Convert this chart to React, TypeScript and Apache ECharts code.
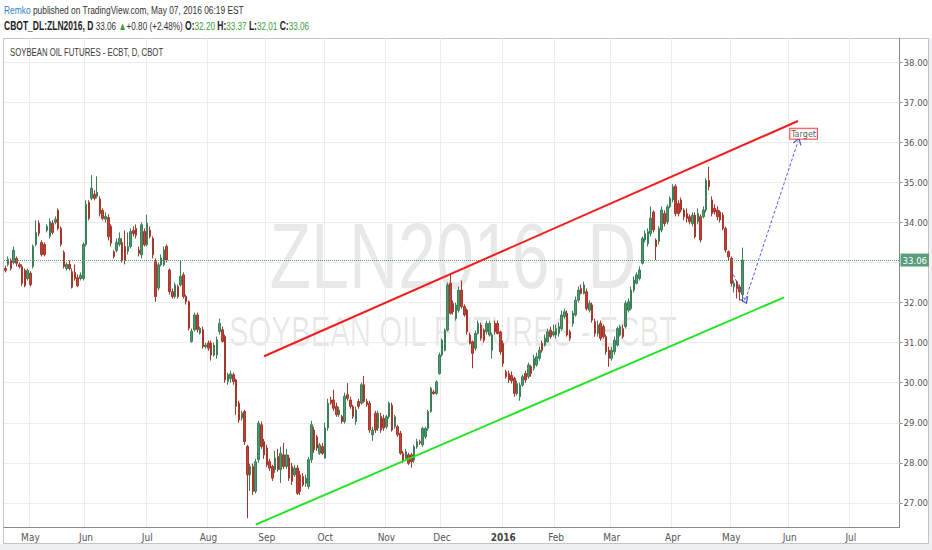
import React, { useEffect, useRef } from "react";
import * as echarts from "echarts";

// trading calendar (CBOT), weekends + exchange holidays skipped
const firstDay = "2015-04-20";
const lastDay = "2016-07-27";
const holidays = [
  "2015-05-25", "2015-07-03", "2015-09-07", "2015-11-26", "2015-12-25",
  "2016-01-01", "2016-01-18", "2016-02-15", "2016-03-25", "2016-05-30", "2016-07-04",
];
const monthNames = ["Jan", "Feb", "Mar", "Apr", "May", "Jun", "Jul", "Aug", "Sep", "Oct", "Nov", "Dec"];

// daily bars: [open, close, low, high]
const apr15 = [
  [32.85, 32.80, 32.75, 32.92], [32.95, 33.08, 32.90, 33.15], [33.05, 32.85, 32.80, 33.10],
  [33.00, 33.30, 32.95, 33.40], [33.10, 32.98, 32.90, 33.15], [32.95, 32.90, 32.85, 33.00],
  [32.90, 32.48, 32.42, 32.95], [32.80, 32.42, 32.38, 32.85], [32.60, 32.80, 32.55, 32.85],
];
const may15 = [
  [32.73, 32.45, 32.40, 32.78], [32.90, 33.40, 32.85, 33.45], [33.45, 33.75, 33.40, 34.05],
  [33.98, 33.72, 33.65, 34.05], [33.50, 33.20, 33.15, 33.55], [33.45, 33.20, 33.15, 33.50],
  [33.80, 33.90, 33.75, 33.95], [33.65, 34.02, 33.60, 34.10], [33.98, 33.75, 33.70, 34.05],
  [34.00, 34.08, 33.95, 34.15], [34.30, 33.85, 33.80, 34.35], [33.85, 33.45, 33.40, 33.90],
  [33.25, 32.90, 32.85, 33.30], [32.85, 32.95, 32.80, 33.00], [32.95, 32.85, 32.80, 33.05],
  [32.77, 32.38, 32.35, 32.85], [32.75, 32.60, 32.55, 32.95], [32.62, 32.42, 32.38, 32.70],
  [32.60, 32.68, 32.55, 32.75], [32.60, 33.45, 32.55, 33.50],
];
const jun15 = [
  [33.45, 34.45, 33.40, 34.55], [34.50, 34.10, 34.05, 34.55], [34.60, 34.85, 34.55, 35.18],
  [34.70, 34.60, 34.55, 34.80], [34.65, 34.75, 34.60, 35.15], [34.58, 34.22, 34.15, 34.65],
  [34.30, 34.10, 34.05, 34.35], [34.08, 34.15, 34.00, 34.25], [34.12, 33.64, 33.55, 34.20],
  [33.90, 33.48, 33.40, 33.95], [33.27, 33.15, 33.10, 33.30], [33.30, 33.50, 33.25, 33.60],
  [33.45, 33.60, 33.40, 33.75], [33.50, 33.05, 33.00, 33.60], [33.40, 33.05, 32.95, 33.80],
  [33.28, 33.40, 33.20, 33.75], [33.40, 33.77, 33.35, 33.85], [33.80, 33.72, 33.65, 33.90],
  [33.85, 33.68, 33.60, 33.95], [33.31, 33.23, 33.15, 33.40], [33.19, 33.94, 33.10, 34.00],
  [33.77, 33.44, 33.40, 33.85],
];
const jul15 = [
  [33.44, 33.98, 33.40, 34.19], [33.81, 33.65, 33.60, 33.90], [33.60, 33.19, 33.10, 33.65],
  [33.02, 32.15, 32.02, 33.10], [32.36, 32.94, 32.30, 33.00], [32.94, 33.11, 32.90, 33.20],
  [32.94, 33.31, 32.90, 33.40], [33.40, 33.06, 33.00, 33.45], [32.81, 32.27, 32.20, 32.85],
  [32.27, 32.15, 32.10, 32.35], [32.15, 32.44, 32.10, 32.50], [32.40, 32.15, 32.10, 32.45],
  [32.44, 32.65, 32.40, 33.06], [32.69, 32.15, 32.10, 32.75], [32.15, 32.02, 31.95, 32.20],
  [32.02, 31.36, 31.30, 32.05], [31.03, 31.28, 31.00, 31.35], [31.32, 31.69, 31.28, 31.75],
  [31.69, 31.32, 31.25, 31.75], [31.24, 31.36, 31.20, 31.40], [31.32, 30.90, 30.85, 31.40],
  [30.90, 30.94, 30.85, 31.00],
];
const aug15 = [
  [30.99, 30.86, 30.80, 31.05], [30.99, 30.69, 30.55, 31.05], [30.69, 30.94, 30.65, 31.00],
  [30.69, 31.07, 30.60, 31.15], [31.28, 31.48, 31.20, 31.60], [31.32, 31.03, 31.00, 31.40],
  [31.15, 30.07, 30.00, 31.20], [30.03, 30.20, 29.95, 30.25], [30.10, 30.22, 30.00, 30.30],
  [30.20, 30.03, 29.95, 30.25], [30.07, 29.41, 29.20, 30.10], [29.49, 29.07, 29.00, 29.55],
  [29.12, 29.24, 29.05, 29.30], [29.28, 28.53, 28.45, 29.32], [28.41, 27.70, 26.62, 28.45],
  [27.70, 27.91, 27.30, 27.98], [27.91, 27.29, 27.20, 27.98], [27.29, 28.03, 27.24, 28.10],
  [28.08, 28.99, 28.00, 29.05], [28.95, 28.41, 28.35, 29.03], [28.53, 28.20, 28.10, 28.60],
];
const sep15 = [
  [28.37, 27.95, 27.90, 28.45], [28.03, 27.87, 27.80, 28.10], [27.91, 27.62, 27.55, 27.95],
  [27.83, 28.12, 27.75, 28.30], [28.16, 27.83, 27.78, 28.35], [27.83, 28.24, 27.50, 28.40],
  [28.20, 27.91, 27.85, 28.50], [27.91, 28.20, 27.85, 28.35], [28.12, 27.62, 27.55, 28.20],
  [27.91, 27.54, 27.45, 28.00], [27.70, 27.87, 27.65, 27.95], [27.87, 27.24, 27.20, 27.95],
  [27.70, 27.29, 27.20, 27.80], [27.66, 27.45, 27.40, 27.75], [27.49, 27.62, 27.40, 27.70],
  [27.41, 28.08, 27.35, 28.15], [28.08, 28.95, 28.00, 29.05], [28.82, 28.33, 28.25, 28.90],
  [28.65, 28.37, 28.30, 28.70], [28.24, 28.45, 28.20, 28.50], [28.41, 28.24, 28.20, 28.50],
];
const oct15 = [
  [28.12, 28.87, 28.10, 29.00], [28.87, 29.49, 28.80, 29.60], [29.57, 29.49, 29.45, 29.65],
  [29.57, 29.36, 29.30, 29.82], [29.41, 29.20, 29.15, 29.50], [29.20, 29.32, 29.15, 29.40],
  [29.16, 29.03, 28.98, 29.20], [29.03, 29.66, 28.98, 29.75], [29.70, 29.61, 29.55, 29.99],
  [29.57, 29.41, 29.35, 29.65], [29.41, 29.16, 29.10, 29.45], [29.03, 29.32, 28.95, 29.40],
  [29.53, 29.41, 29.35, 29.60], [29.49, 29.95, 29.45, 30.00], [29.95, 29.53, 29.50, 30.17],
  [29.53, 29.45, 29.40, 29.60], [29.49, 28.82, 28.75, 29.55], [28.70, 28.82, 28.55, 28.90],
  [29.24, 28.82, 28.75, 29.30], [28.87, 29.24, 28.80, 29.30], [29.16, 28.82, 28.75, 29.25],
  [29.11, 28.87, 28.80, 29.20],
];
const nov15 = [
  [28.90, 29.15, 28.85, 29.20], [29.15, 29.49, 29.10, 29.53], [29.44, 28.82, 28.78, 29.50],
  [28.90, 29.15, 28.85, 29.20], [28.90, 28.70, 28.65, 28.95], [28.74, 28.24, 28.20, 28.80],
  [28.24, 28.07, 28.00, 28.30], [28.11, 28.28, 28.05, 28.35], [28.20, 27.99, 27.95, 28.25],
  [28.20, 28.03, 27.88, 28.25], [28.07, 28.40, 28.00, 28.45], [28.40, 28.53, 28.35, 28.60],
  [28.53, 28.50, 28.45, 28.58], [28.45, 28.86, 28.40, 28.90], [28.65, 28.86, 28.60, 28.90],
  [28.86, 29.28, 28.80, 29.32], [29.28, 29.86, 29.25, 29.90], [29.77, 29.73, 29.70, 29.82],
  [29.73, 30.02, 29.70, 30.06], [30.23, 30.69, 30.20, 30.75],
];
const dec15 = [
  [30.69, 31.06, 30.65, 31.10], [30.81, 31.31, 30.78, 31.35], [31.31, 32.44, 31.28, 32.50],
  [32.48, 31.73, 31.70, 32.69], [31.98, 31.77, 31.70, 32.05], [31.60, 31.94, 31.55, 32.00],
  [31.81, 32.31, 31.75, 32.40], [32.31, 31.90, 31.85, 32.55], [31.90, 31.69, 31.65, 31.95],
  [31.81, 31.27, 31.20, 31.85], [31.19, 30.98, 30.95, 31.25], [31.02, 30.73, 30.36, 31.05],
  [30.86, 31.23, 30.80, 31.30], [31.23, 31.48, 31.20, 31.55], [31.44, 31.11, 31.05, 31.50],
  [31.31, 31.06, 31.00, 31.35], [31.27, 31.48, 31.20, 31.55], [31.19, 31.48, 31.15, 31.55],
  [30.81, 31.19, 30.60, 31.25], [31.48, 31.27, 31.20, 31.55], [31.48, 31.23, 31.20, 31.55],
  [31.27, 30.77, 30.70, 31.30],
];
const jan16 = [
  [30.98, 30.48, 30.40, 31.05], [30.27, 30.15, 30.10, 30.32], [30.23, 30.07, 30.00, 30.30],
  [30.18, 30.05, 29.98, 30.28], [30.11, 29.73, 29.65, 30.15], [29.73, 29.98, 29.68, 30.05],
  [29.65, 29.94, 29.55, 30.00], [29.94, 30.15, 29.90, 30.20], [30.23, 30.07, 30.00, 30.30],
  [30.15, 30.44, 30.10, 30.50], [30.40, 30.23, 30.15, 30.45], [30.36, 30.61, 30.30, 30.70],
  [30.44, 30.65, 30.40, 30.75], [30.61, 30.81, 30.55, 30.90], [30.98, 30.81, 30.75, 31.05],
  [30.94, 31.11, 30.90, 31.20], [31.02, 31.27, 31.00, 31.35], [31.31, 31.15, 31.10, 31.40],
  [31.19, 31.27, 31.15, 31.45],
];
const feb16 = [
  [31.19, 31.35, 31.10, 31.45], [31.23, 31.40, 31.15, 31.50], [31.35, 31.69, 31.30, 31.80],
  [31.65, 31.77, 31.60, 31.85], [31.73, 31.19, 31.15, 31.80], [31.27, 31.11, 31.05, 31.32],
  [31.48, 31.73, 31.40, 31.80], [31.69, 32.06, 31.65, 32.15], [32.06, 32.31, 32.00, 32.40],
  [32.35, 32.23, 32.20, 32.45], [32.23, 32.44, 32.20, 32.52], [32.27, 31.85, 31.80, 32.35],
  [31.81, 31.98, 31.75, 32.05], [31.94, 31.56, 31.50, 32.00], [31.52, 31.23, 31.15, 31.60],
  [31.23, 31.44, 31.15, 31.55], [31.48, 31.11, 31.05, 31.55], [31.40, 31.15, 31.10, 31.45],
  [31.15, 30.77, 30.70, 31.20], [30.81, 30.61, 30.40, 30.90],
];
const mar16 = [
  [30.61, 30.81, 30.55, 30.90], [30.77, 31.06, 30.70, 31.15], [30.94, 31.35, 30.90, 31.40],
  [31.19, 31.40, 31.15, 31.45], [31.35, 31.15, 31.10, 31.45], [31.40, 31.98, 31.35, 32.05],
  [31.81, 32.02, 31.75, 32.10], [31.85, 32.31, 31.80, 32.40], [32.31, 32.56, 32.25, 32.65],
  [32.48, 32.69, 32.45, 32.75], [32.60, 32.81, 32.55, 32.90], [32.98, 33.60, 32.95, 33.65],
  [33.56, 33.72, 33.50, 33.80], [33.47, 33.77, 33.40, 33.85], [33.72, 34.10, 33.65, 34.40],
  [34.26, 33.81, 33.75, 34.30], [33.56, 33.39, 33.06, 33.60], [33.52, 33.85, 33.45, 33.90],
  [33.81, 34.31, 33.75, 34.40], [34.22, 33.97, 33.90, 34.30], [34.02, 34.39, 33.95, 34.45],
  [34.39, 34.60, 34.35, 34.65],
];
const apr16 = [
  [34.56, 34.89, 34.50, 34.95], [34.90, 34.22, 34.15, 34.95], [34.47, 34.22, 34.15, 34.55],
  [34.56, 34.31, 34.25, 34.62], [34.31, 34.14, 34.05, 34.35], [34.22, 34.10, 34.00, 34.35],
  [34.14, 34.02, 33.95, 34.20], [33.97, 34.18, 33.90, 34.25], [34.18, 33.64, 33.60, 34.25],
  [34.02, 34.22, 33.95, 34.35], [34.14, 33.56, 33.50, 34.20], [34.14, 34.31, 34.10, 34.40],
  [34.31, 35.05, 34.25, 35.10], [35.05, 34.89, 34.80, 35.39], [34.56, 34.22, 34.15, 34.65],
  [34.35, 34.26, 34.20, 34.45], [34.31, 34.14, 34.05, 34.40], [34.26, 34.06, 34.00, 34.30],
  [34.18, 33.85, 33.80, 34.25], [33.85, 33.31, 33.25, 33.90], [33.27, 33.14, 33.05, 33.30],
];
const may16 = [
  [33.10, 32.48, 32.40, 33.15], [32.39, 32.48, 32.25, 32.55], [32.52, 32.35, 32.10, 32.55],
  [32.39, 32.26, 32.05, 32.45], [32.20, 33.06, 32.01, 33.37],
];

// price axis
const priceMin = 26.4;
const priceMax = 38.6;
const gridPrices = [27, 28, 29, 30, 31, 32, 33, 34, 35, 36, 37, 38];
const priceLabels = [27, 28, 29, 30, 31, 32, 34, 35, 36, 37, 38];

// drawings: [bar index, price]
const redLine = [[93, 30.66], [285, 36.53]];
const greenLine = [[90, 26.46], [280, 32.13]];
const forecast = [[261, 32.81], [266, 32.05], [285, 36.02]];
const target = [287, 36.21];

const narrow = "'Liberation Sans Narrow', 'DejaVu Sans Condensed', 'Liberation Sans', sans-serif";
const chevron = "path://M0,10 L5,0 L10,10";

function tradingDays() {
  const out: string[] = [];
  const d = new Date(firstDay + "T00:00:00Z");
  const end = new Date(lastDay + "T00:00:00Z");
  while (d <= end) {
    const wd = d.getUTCDay();
    const s = d.toISOString().slice(0, 10);
    if (wd !== 0 && wd !== 6 && !holidays.includes(s)) out.push(s);
    d.setUTCDate(d.getUTCDate() + 1);
  }
  return out;
}

export default function App() {
  const chartRef = useRef<HTMLDivElement>(null);

  useEffect(() => {
    if (!chartRef.current) return;
    const chart = echarts.init(chartRef.current, null, { renderer: "svg" });

    const days = tradingDays();
    const bars = [
      ...apr15, ...may15, ...jun15, ...jul15, ...aug15, ...sep15, ...oct15,
      ...nov15, ...dec15, ...jan16, ...feb16, ...mar16, ...apr16, ...may16,
    ];
    const monthStart = (i: number) => i > 0 && days[i].slice(0, 7) !== days[i - 1].slice(0, 7);
    const monthLabel = (v: string) => {
      const m = Number(v.slice(5, 7)) - 1;
      return m === 0 ? "{y|" + v.slice(0, 4) + "}" : monthNames[m];
    };

    const last = bars[bars.length - 1];
    const prevClose = bars[bars.length - 2][1];
    const chg = last[1] - prevClose;
    const pct = (chg / prevClose) * 100;
    const f = (v: number) => v.toFixed(2);
    const header2 =
      `{b|CBOT_DL:ZLN2016, D} ${f(last[1])} {g|▲}+${f(chg)} (+${f(pct)}%) ` +
      `{b|O:}{g|${f(last[0])}} {b|H:}{g|${f(last[3])}} {b|L:}{g|${f(last[2])}} {b|C:}{g|${f(last[1])}}`;

    const option = {
      animation: false,
      backgroundColor: "#ffffff",
      textStyle: { fontFamily: narrow },
      grid: { left: 4, right: 29, top: 38, bottom: 23 },
      graphic: [
        { type: "rect", silent: true, z: 0, shape: { x: 0, y: 544, width: 932, height: 6 }, style: { fill: "#eef0f2" } },
        { type: "rect", silent: true, z: 0, shape: { x: 929, y: 38, width: 3, height: 506 }, style: { fill: "#eef0f2" } },
        { type: "rect", silent: true, z: 0, shape: { x: 3.5, y: 38.5, width: 925, height: 505 }, style: { fill: "none", stroke: "#c4c4c4", lineWidth: 1 } },
        {
          type: "text", silent: true, z: 0, x: 453, y: 256, scaleX: 0.74,
          style: { text: "ZLN2016, D", fontSize: 92, fontFamily: "Liberation Sans", fill: "rgba(0,0,0,0.09)", textAlign: "center", textVerticalAlign: "middle" },
        },
        {
          type: "text", silent: true, z: 0, x: 453, y: 332, scaleX: 0.7,
          style: { text: "SOYBEAN OIL FUTURES - ECBT", fontSize: 42, fontFamily: "Liberation Sans", fill: "rgba(0,0,0,0.09)", textAlign: "center", textVerticalAlign: "middle" },
        },
        {
          type: "text", silent: true, z: 10, x: 10, y: 53, scaleX: 0.74,
          style: { text: "SOYBEAN OIL FUTURES - ECBT, D, CBOT", fontSize: 10.5, fontFamily: "Liberation Sans", fill: "#3a3a3a", textVerticalAlign: "middle" },
        },
        {
          type: "text", silent: true, z: 10, x: 4, y: 10, scaleX: 0.73,
          style: {
            text: "{a|Remko} published on TradingView.com, May 07, 2016 06:19 EST",
            fontSize: 11.5, fontFamily: "Liberation Sans", fill: "#333", textVerticalAlign: "middle",
            rich: { a: { fill: "#2f7fc8" } },
          },
        },
        {
          type: "text", silent: true, z: 10, x: 4, y: 25.5, scaleX: 0.71,
          style: {
            text: header2,
            fontSize: 11.5, fontFamily: "Liberation Sans", fill: "#333", textVerticalAlign: "middle",
            rich: { b: { fontWeight: "bold", fill: "#222" }, g: { fill: "#3a9d3a" } },
          },
        },
      ],
      xAxis: {
        type: "category",
        data: days,
        boundaryGap: true,
        axisLine: { lineStyle: { color: "#8a8a8a" } },
        axisTick: { interval: monthStart, alignWithLabel: true, length: 3, lineStyle: { color: "#8a8a8a" } },
        axisLabel: {
          interval: monthStart, formatter: monthLabel, color: "#555", fontSize: 10, margin: 5,
          rich: { y: { fontWeight: "bold", color: "#444", fontSize: 10, fontFamily: narrow } },
        },
        splitLine: { show: true, interval: monthStart, lineStyle: { color: "#ececec" } },
      },
      yAxis: [
        {
          type: "value", position: "right", min: priceMin, max: priceMax,
          axisLine: { show: true, lineStyle: { color: "#8a8a8a" } },
          axisTick: { show: true, length: 3, customValues: priceLabels, lineStyle: { color: "#8a8a8a" } },
          axisLabel: { customValues: priceLabels, formatter: (v: number) => v.toFixed(2), color: "#555", fontSize: 9.5, margin: 4 },
          splitLine: { show: false },
        },
        {
          type: "value", position: "right", min: priceMin, max: priceMax,
          axisLine: { show: false }, axisTick: { show: false }, splitLine: { show: false },
          axisLabel: {
            customValues: [last[1]], formatter: (v: number) => v.toFixed(2),
            color: "#fff", backgroundColor: "#5a9e7b", padding: [2, 2, 1, 2], fontSize: 9.5, margin: 1,
          },
        },
      ],
      series: [
        {
          type: "candlestick",
          data: bars,
          barWidth: 2,
          itemStyle: { color: "#4f9a71", color0: "#c2463a", borderColor: "#3b7f58", borderColor0: "#a5362b", borderWidth: 1 },
          markLine: {
            silent: true, z: 1, symbol: ["none", "none"], label: { show: false },
            lineStyle: { color: "#ececec", type: "solid", width: 1 },
            data: gridPrices.map((p) => ({ yAxis: p })),
          },
        },
        {
          type: "line", data: redLine, symbol: "none", silent: true, z: 4,
          lineStyle: { color: "#f21c1c", width: 2 },
        },
        {
          type: "line", data: greenLine, symbol: "none", silent: true, z: 4,
          lineStyle: { color: "#24e324", width: 2 },
        },
        {
          type: "line", silent: true, z: 4, showAllSymbol: true,
          lineStyle: { color: "#5656e0", width: 1, type: [3, 2] },
          data: forecast.map((p, i) => ({
            value: p,
            symbol: i === 0 ? "none" : chevron,
            symbolSize: [8, 6],
            symbolRotate: i === 1 ? -157 : -19,
            itemStyle: { color: "rgba(0,0,0,0)", borderColor: "#5656e0", borderWidth: 1.2 },
          })),
          markLine: {
            silent: true, z: 3, symbol: ["none", "none"], label: { show: false },
            lineStyle: { color: "#4f9a71", type: "dotted", width: 1 },
            data: [{ yAxis: last[1] }],
          },
        },
        {
          type: "scatter", silent: true, z: 6, data: [target], symbolSize: 1,
          itemStyle: { color: "rgba(0,0,0,0)" },
          label: {
            show: true, position: "inside", formatter: "Target", fontSize: 9, color: "#333", fontFamily: narrow,
            backgroundColor: "#fff", borderColor: "#e22", borderWidth: 1, padding: [1, 1, 0, 1],
          },
        },
      ],
    };

    chart.setOption(option);
    return () => chart.dispose();
  }, []);

  return (
    <div
      ref={chartRef}
      style={{ position: "absolute", left: 0, top: 0, width: "932px", height: "550px" }}
    />
  );
}
